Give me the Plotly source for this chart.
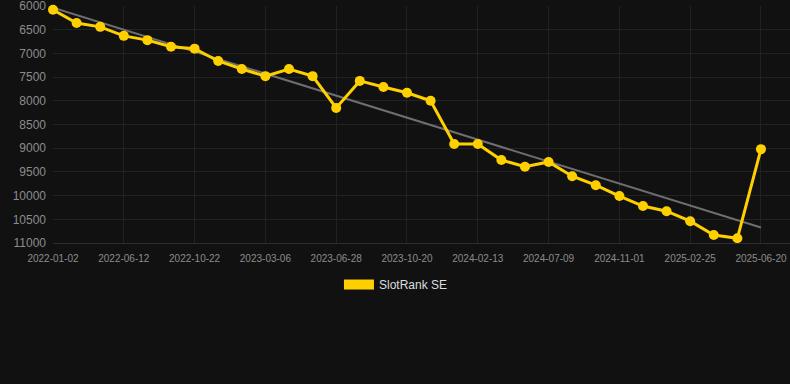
import numpy as np
import plotly.graph_objects as go

dates = ["2022-01-02", "2022-02-24", "2022-04-18", "2022-06-12", "2022-07-26", "2022-09-08",
         "2022-10-22", "2022-12-06", "2023-01-20", "2023-03-06", "2023-04-13", "2023-05-21",
         "2023-06-28", "2023-08-05", "2023-09-12", "2023-10-20", "2023-11-28", "2024-01-06",
         "2024-02-13", "2024-03-31", "2024-05-20", "2024-07-09", "2024-08-16", "2024-09-24",
         "2024-11-01", "2024-12-09", "2025-01-17", "2025-02-25", "2025-04-03", "2025-05-12",
         "2025-06-20"]
ranks = [6080, 6360, 6440, 6630, 6720, 6860, 6900, 7160, 7330, 7480, 7330, 7480,
         8150, 7580, 7710, 7830, 8000, 8910, 8910, 9250, 9390, 9290, 9590, 9780,
         10010, 10220, 10330, 10540, 10830, 10900, 9020]
tick_labels = dates[::3]
y_ticks = [6000, 6500, 7000, 7500, 8000, 8500, 9000, 9500, 10000, 10500, 11000]
series_name = "SlotRank SE"

idx = np.arange(len(ranks))
slope, intercept = np.polyfit(idx, ranks, 1)
trend = slope * idx + intercept

fig = go.Figure()
fig.add_trace(go.Scatter(x=dates, y=trend, mode="lines", line=dict(color="#6e6e6e", width=2),
                         showlegend=False, hoverinfo="skip", cliponaxis=False))
fig.add_trace(go.Scatter(x=dates, y=ranks, mode="lines+markers", name=series_name,
                         line=dict(color="#FFD000", width=3),
                         marker=dict(color="#FFD000", size=10),
                         showlegend=False, cliponaxis=False))
fig.add_trace(go.Scatter(x=[None], y=[None], mode="lines", name=series_name,
                         line=dict(color="#FFD000", width=12), showlegend=True))

fig.update_layout(
    width=790, height=384,
    paper_bgcolor="#111111", plot_bgcolor="#111111",
    margin=dict(l=53, r=0, t=6, b=141),
    font=dict(family="Liberation Sans, Arial, sans-serif", color="#8c8c8c"),
    xaxis=dict(type="category", categoryorder="array", categoryarray=dates,
               range=[0, 31.23], tickvals=tick_labels, ticktext=tick_labels,
               showgrid=True, gridcolor="#222222", gridwidth=1,
               tickfont=dict(size=10, color="#8c8c8c"), ticks="", zeroline=False,
               showline=True, linecolor="#2e2e2e", ticklabeloverflow="allow",
               ticklabelstandoff=6),
    yaxis=dict(range=[11000, 6000], tickvals=y_ticks, tickformat="d",
               showgrid=True, gridcolor="#222222", gridwidth=1,
               tickfont=dict(size=12, color="#8c8c8c"), ticks="", zeroline=False,
               ticklabelstandoff=6, ticklabeloverflow="allow"),
    legend=dict(orientation="h", x=0.388, xanchor="left", y=-0.114, yanchor="top",
                font=dict(size=12, color="#dddddd"), bgcolor="rgba(0,0,0,0)"),
    showlegend=True,
)

fig.write_html("out.html", config={"displayModeBar": False},
               post_script="document.body.style.margin='0';document.body.style.background='#111111';")
